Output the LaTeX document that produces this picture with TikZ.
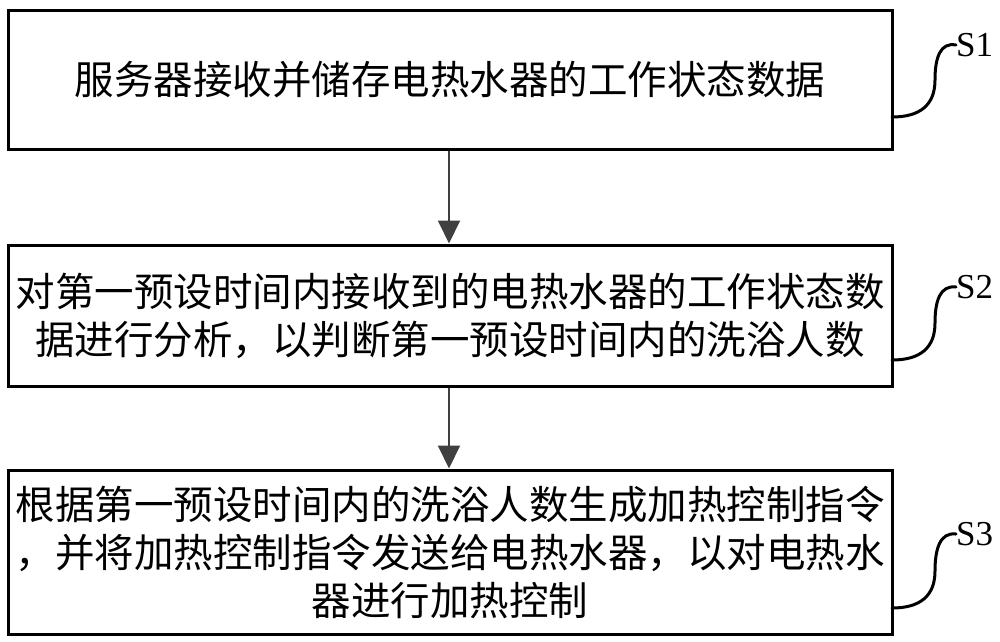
\documentclass[tikz,border=0pt]{standalone}
\usepackage{fontspec}
\newfontfamily\cjk{Noto Sans CJK SC}
\newfontfamily\lab{Liberation Serif}
\usetikzlibrary{arrows.meta}
\definecolor{arrowgray}{HTML}{404040}
\tikzset{
  stepbox/.style={draw=black, line width=3pt, rectangle, minimum width=884pt,
    text width=880pt, align=center, inner sep=0pt,
    font=\cjk\fontsize{39.5pt}{48pt}\selectfont},
  flow/.style={draw=arrowgray, line width=2pt,
    -{Triangle[length=23pt,width=22pt,fill=arrowgray]}},
  tag/.style={font=\lab\fontsize{35pt}{40pt}\selectfont, inner sep=0pt, anchor=west},
  hook/.style={draw=black, line width=3pt, line cap=round}
}
\begin{document}
\begin{tikzpicture}[x=1pt,y=-1pt]
\useasboundingbox (0,0) rectangle (1000,641);
\node[stepbox, minimum height=139pt] (b1) at (450,79.5) {服务器接收并储存电热水器的工作状态数据};
\node[stepbox, minimum height=141pt] (b2) at (450,315.5) {对第一预设时间内接收到的电热水器的工作状态数\\据进行分析，以判断第一预设时间内的洗浴人数};
\node[stepbox, minimum height=164pt] (b3) at (450,552) {根据第一预设时间内的洗浴人数生成加热控制指令\\，并将加热控制指令发送给电热水器，以对电热水\\器进行加热控制};
\draw[flow] (b1.south -| 449,0) -- (b2.north -| 449,0);
\draw[flow] (b2.south -| 449,0) -- (b3.north -| 449,0);
\node[tag] (s1) at (956,45) {S1};
\node[tag] (s2) at (956,287) {S2};
\node[tag] (s3) at (956,534) {S3};
\coordinate (c1) at (892,117);
\coordinate (c2) at (892,360);
\coordinate (c3) at (892,608);
\draw[hook] (c1) .. controls (920,117) and (935,105) .. (935,80) .. controls (935,58) and (940,42) .. (s1.west);
\draw[hook] (c2) .. controls (920,360) and (935,348) .. (935,323) .. controls (935,301) and (940,285) .. (s2.west);
\draw[hook] (c3) .. controls (920,608) and (935,596) .. (935,571) .. controls (935,549) and (940,532) .. (s3.west);
\end{tikzpicture}
\end{document}
